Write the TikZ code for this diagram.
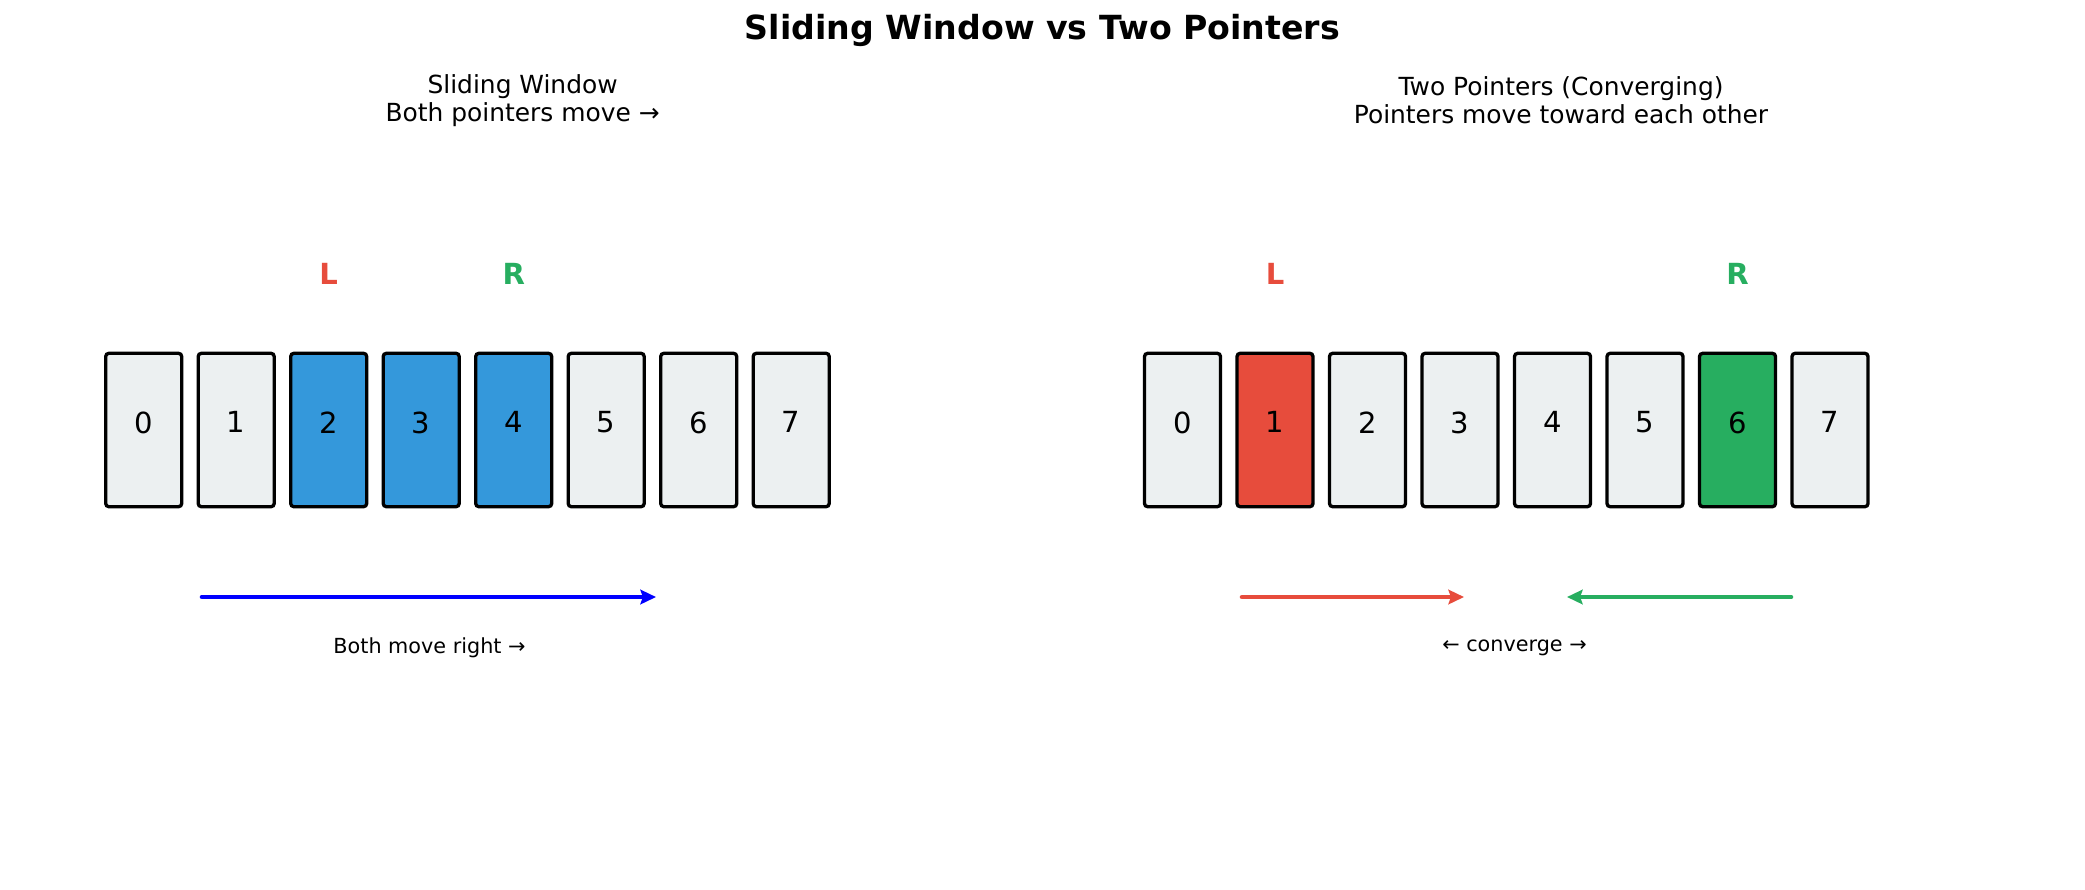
\documentclass[tikz,border=0pt]{standalone}
\usepackage{fontspec}
\setmainfont{DejaVu Sans}
\usetikzlibrary{arrows.meta}
\definecolor{cgray}{HTML}{ECF0F1}
\definecolor{cblue}{HTML}{3498DB}
\definecolor{cred}{HTML}{E74C3C}
\definecolor{cgreen}{HTML}{27AE60}
\begin{document}
\begin{tikzpicture}[x=0.4818pt,y=-0.4818pt,
  cell/.style={draw=black, line width=1.6pt, rounded corners=1.5pt, inner sep=0pt,
    minimum width=36.6pt, minimum height=73.9pt, text depth=7.5pt,
    font=\fontsize{14}{16}\selectfont},
  ptr/.style={font=\fontsize{14}{16}\selectfont\bfseries},
  sub/.style={align=center, font=\fontsize{12}{13.5}\selectfont},
  note/.style={font=\fontsize{10}{12}\selectfont},
  arr/.style={line width=2.2pt, line cap=round, -{Stealth[length=7.5pt,width=7pt,inset=1.2pt]}}]
\useasboundingbox (0,0) rectangle (2085,889);
\node[font=\fontsize{16}{19}\selectfont\bfseries] (title) at (1042.5,30.6) {Sliding Window vs Two Pointers};
\node[sub] (subL) at (522.6,100.4) {Sliding Window\\Both pointers move →};
\node[sub] (subR) at (1561,100.4) {Two Pointers (Converging)\\Pointers move toward each other};
% left array
\foreach \i/\c in {0/cgray,1/cgray,2/cblue,3/cblue,4/cblue,5/cgray,6/cgray,7/cgray}
  \node[cell, fill=\c] (a\i) at ({143.7+92.5*\i},430) {\i};
% right array
\foreach \i/\c in {0/cgray,1/cred,2/cgray,3/cgray,4/cgray,5/cgray,6/cgreen,7/cgray}
  \node[cell, fill=\c] (b\i) at ({1182.5+92.5*\i},430) {\i};
\node[ptr, text=cred] (aL) at ({143.7+92.5*2},274) {L};
\node[ptr, text=cgreen] (aR) at ({143.7+92.5*4},274) {R};
\node[ptr, text=cred] (bL) at ({1182.5+92.5*1},274) {L};
\node[ptr, text=cgreen] (bR) at ({1182.5+92.5*6},274) {R};
% arrows
\coordinate (s1) at (202,597);
\coordinate (e1) at (656,597);
\draw[arr, blue] (s1) -- (e1);
\coordinate (s2) at (1242,597);
\coordinate (e2) at (1464,597);
\draw[arr, cred] (s2) -- (e2);
\coordinate (s3) at (1791,597);
\coordinate (e3) at (1567,597);
\draw[arr, cgreen] (s3) -- (e3);
\node[note] (nL) at (429.5,648) {Both move right →};
\node[note] (nR) at (1514.5,648) {← converge →};
\end{tikzpicture}
\end{document}
